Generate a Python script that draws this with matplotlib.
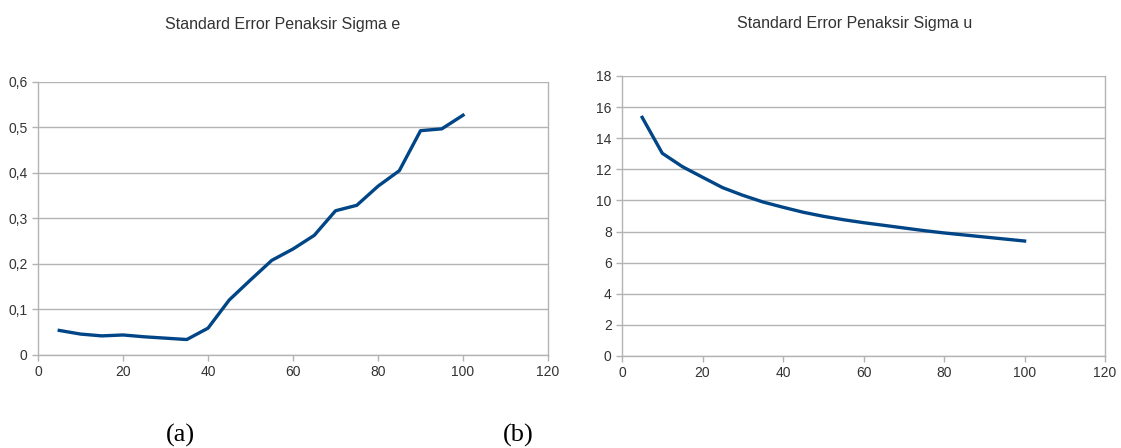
import numpy as np
import matplotlib
matplotlib.use("Agg")
import matplotlib.pyplot as plt
from matplotlib.ticker import FuncFormatter

# sample sizes
n_values = [5, 10, 15, 20, 25, 30, 35, 40, 45, 50,
            55, 60, 65, 70, 75, 80, 85, 90, 95, 100]

# standard error of sigma e estimator
se_sigma_e = [0.054, 0.046, 0.042, 0.044, 0.040, 0.037, 0.034, 0.059, 0.121, 0.165,
              0.208, 0.233, 0.263, 0.317, 0.329, 0.371, 0.405, 0.493, 0.497, 0.527]

# standard error of sigma u estimator
se_sigma_u = [15.34, 13.03, 12.17, 11.49, 10.82, 10.33, 9.90, 9.56, 9.24, 8.98,
              8.76, 8.57, 8.40, 8.23, 8.06, 7.91, 7.78, 7.65, 7.52, 7.39]

titles = ["Standard Error Penaksir Sigma e", "Standard Error Penaksir Sigma u"]
panel_labels = ["(a)", "(b)"]

plt.rcParams['font.family'] = ['Liberation Sans Narrow', 'Liberation Sans', 'DejaVu Sans']

LINE = '#004586'
GRID = '#b3b3b3'
TXT = '#333333'

fig = plt.figure(figsize=(11.21, 4.48), dpi=100)
ax1 = fig.add_axes([0.0339, 0.2076, 0.455, 0.6094])
ax2 = fig.add_axes([0.5549, 0.2054, 0.4309, 0.6250])


def style(ax, ymax, ystep, fmt):
    ax.set_xlim(0, 120)
    ax.set_ylim(0, ymax)
    ax.set_xticks(np.arange(0, 121, 20))
    ax.set_yticks(np.arange(0, ymax + ystep / 2, ystep))
    ax.yaxis.set_major_formatter(FuncFormatter(fmt))
    ax.grid(axis='y', color=GRID, linewidth=1.0)
    ax.set_axisbelow(True)
    for s in ['left', 'bottom', 'right']:
        ax.spines[s].set_color(GRID)
        ax.spines[s].set_linewidth(1.0)
    ax.spines['top'].set_visible(False)
    ax.tick_params(axis='both', colors=GRID, length=4, width=1.0,
                   labelcolor=TXT, labelsize=10)


ax1.plot(n_values, se_sigma_e, color=LINE, linewidth=2.4)
style(ax1, 0.6, 0.1, lambda v, p: '0' if abs(v) < 1e-9 else f'{v:.1f}'.replace('.', ','))
ax1.set_title(titles[0], fontsize=11.5, color=TXT, pad=38.5, x=0.48)

ax2.plot(n_values, se_sigma_u, color=LINE, linewidth=2.4)
style(ax2, 18, 2, lambda v, p: f'{v:.0f}')
ax2.set_title(titles[1], fontsize=11.5, color=TXT, pad=34.5, x=0.482)

fig.text(0.161, 0.015, panel_labels[0], fontsize=19, family='Liberation Serif', ha='center')
fig.text(0.462, 0.015, panel_labels[1], fontsize=19, family='Liberation Serif', ha='center')

fig.savefig('out.png', dpi=100)
